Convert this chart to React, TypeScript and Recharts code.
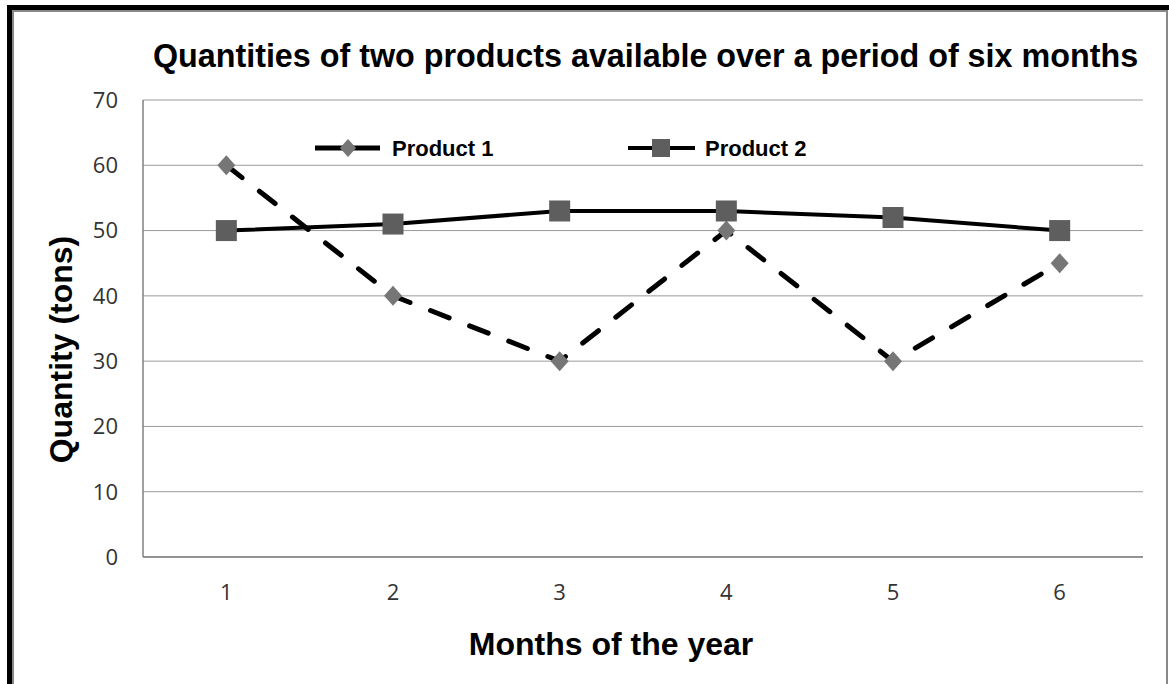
import React from 'react';
import { LineChart, Line, XAxis, YAxis, CartesianGrid, Legend } from 'recharts';

const months = ['1', '2', '3', '4', '5', '6'];
const product1 = [60, 40, 30, 50, 30, 45];
const product2 = [50, 51, 53, 53, 52, 50];
const yTicks = [0, 10, 20, 30, 40, 50, 60, 70];
const seriesNames = ['Product 1', 'Product 2'];

const data = months.map((m, i) => ({ month: m, p1: product1[i], p2: product2[i] }));

const W = 1169;
const H = 684;
const BOLD = '"Liberation Sans", Arial, sans-serif';
const TICKF = '"Open Sans", "Noto Sans", sans-serif';
const DIAMOND = '#767676';
const SQUARE = '#5e5e5e';

const Diamond = (props: any) => {
  const { cx, cy, r = 10 } = props;
  if (cx == null || cy == null) return null;
  const w = r * 0.9;
  return <path d={`M${cx},${cy - r} L${cx + w},${cy} L${cx},${cy + r} L${cx - w},${cy} Z`} fill={DIAMOND} />;
};

const Square = (props: any) => {
  const { cx, cy, s = 21 } = props;
  if (cx == null || cy == null) return null;
  return <rect x={cx - s / 2} y={cy - s / 2} width={s} height={s} fill={SQUARE} />;
};

const LegendContent = () => (
  <svg width={560} height={30} style={{ display: 'block', overflow: 'visible' }}>
    <line x1={5} y1={15} x2={70} y2={15} stroke="#000" strokeWidth={5} />
    <Diamond cx={38} cy={15} r={9} />
    <text x={82} y={23} fontFamily={BOLD} fontWeight="bold" fontSize={22} fill="#000">{seriesNames[0]}</text>
    <line x1={318} y1={15} x2={385} y2={15} stroke="#000" strokeWidth={4} />
    <Square cx={351} cy={15} s={18} />
    <text x={395} y={23} fontFamily={BOLD} fontWeight="bold" fontSize={22} fill="#000">{seriesNames[1]}</text>
  </svg>
);

const XLabel = (props: any) => {
  const vb = props.viewBox || {};
  return (
    <text x={vb.x + vb.width / 2 - 32} y={vb.y + 98} textAnchor="middle" fontFamily={BOLD} fontWeight="bold" fontSize={32} fill="#000">
      Months of the year
    </text>
  );
};

const YLabel = (props: any) => {
  const vb = props.viewBox || {};
  const x = 72;
  const y = vb.y + vb.height / 2 + 21;
  return (
    <text x={x} y={y} transform={`rotate(-90, ${x}, ${y})`} textAnchor="middle" fontFamily={BOLD} fontWeight="bold" fontSize={32} fill="#000">
      Quantity (tons)
    </text>
  );
};

export default function App() {
  return (
    <div style={{ position: 'absolute', left: 0, top: 0, width: W, height: H, background: '#fff', overflow: 'hidden' }}>
      <div style={{ position: 'absolute', left: 7, top: 5, width: W, height: H, borderLeft: '5px solid #000', borderTop: '5px solid #000', boxSizing: 'border-box' }} />
      <div style={{ position: 'absolute', left: 12, top: 10, width: 1156, height: H, borderLeft: '2px solid #888', borderTop: '2px solid #888', borderRight: '2px solid #888', boxSizing: 'border-box' }} />
      <svg width={W} height={80} style={{ position: 'absolute', left: 0, top: 0 }}>
        <text x={645.5} y={67} textAnchor="middle" fontFamily={BOLD} fontWeight="bold" fontSize={32.3} fill="#000">
          Quantities of two products available over a period of six months
        </text>
      </svg>
      <div style={{ position: 'absolute', left: 0, top: 0 }}>
        <LineChart width={W} height={H} data={data} margin={{ top: 100, right: 26, bottom: 0, left: 0 }}>
          <CartesianGrid yAxisId="l" horizontal vertical={false} stroke="#9a9a9a" strokeWidth={1} />
          <XAxis
            dataKey="month"
            height={127}
            padding={{ left: 83.33, right: 83.33 }}
            tickLine={false}
            tickSize={0}
            tickMargin={27}
            axisLine={{ stroke: '#808080', strokeWidth: 1.5 }}
            tick={{ fontFamily: TICKF, fontSize: 22, fill: '#333' }}
            label={<XLabel />}
          />
          <YAxis
            yAxisId="l"
            width={143}
            domain={[0, 70]}
            ticks={yTicks}
            interval={0}
            tickLine={false}
            tickSize={0}
            tickMargin={25}
            axisLine={{ stroke: '#808080', strokeWidth: 1.5 }}
            tick={{ fontFamily: TICKF, fontSize: 22, fill: '#333' }}
            label={<YLabel />}
          />
          <YAxis
            yAxisId="r"
            orientation="right"
            width={0}
            domain={[0, 70]}
            tick={false}
            tickLine={false}
            axisLine={{ stroke: '#808080', strokeWidth: 1.5 }}
          />
          <Legend
            layout="horizontal"
            verticalAlign="middle"
            align="center"
            content={<LegendContent />}
            wrapperStyle={{ position: 'absolute', left: 310, top: 133, width: 560, height: 30 }}
          />
          <Line
            yAxisId="l"
            name={seriesNames[0]}
            dataKey="p1"
            stroke="#000"
            strokeWidth={5}
            strokeDasharray="20 22"
            strokeLinecap="round"
            dot={<Diamond r={10} />}
            activeDot={false}
            isAnimationActive={false}
          />
          <Line
            yAxisId="l"
            name={seriesNames[1]}
            dataKey="p2"
            stroke="#000"
            strokeWidth={4}
            dot={<Square s={21} />}
            activeDot={false}
            isAnimationActive={false}
          />
        </LineChart>
      </div>
    </div>
  );
}
